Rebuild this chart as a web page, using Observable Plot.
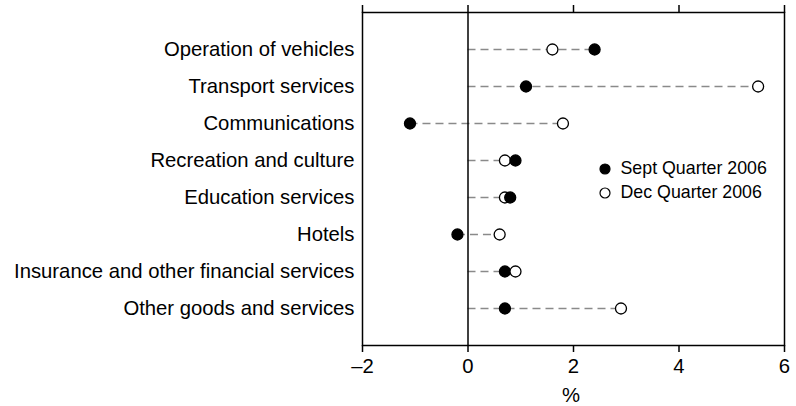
<!DOCTYPE html>
<html>
<head>
<meta charset="utf-8">
<script src="https://cdn.jsdelivr.net/npm/d3@7"></script>
<script src="https://cdn.jsdelivr.net/npm/@observablehq/plot@0.6"></script>
<style>
  html, body { margin: 0; padding: 0; background: white; }
  #wrap { position: relative; width: 796px; height: 406px; font-family: "Liberation Sans", Arial, sans-serif; }
  #legend { position: absolute; left: 599px; top: 156.5px; font-size: 17.8px; color: #000; }
  #legend .row { display: flex; align-items: center; height: 24px; white-space: nowrap; }
  #legend svg { margin-right: 9.5px; }
</style>
</head>
<body>
<div id="wrap"><div id="legend"></div></div>
<script>
const categories = [
  "Operation of vehicles",
  "Transport services",
  "Communications",
  "Recreation and culture",
  "Education services",
  "Hotels",
  "Insurance and other financial services",
  "Other goods and services"
];
const septQuarter2006 = [2.4, 1.1, -1.1, 0.9, 0.8, -0.2, 0.7, 0.7];
const decQuarter2006  = [1.6, 5.5, 1.8, 0.7, 0.7, 0.6, 0.9, 2.9];
const seriesNames = ["Sept Quarter 2006", "Dec Quarter 2006"];
const xTicks = [-2, 0, 2, 4, 6];
const xDomain = [-2, 6];
const xLabel = "%";

const rows = categories.map((c, i) => ({
  category: c,
  lo: Math.min(0, septQuarter2006[i], decQuarter2006[i]),
  hi: Math.max(0, septQuarter2006[i], decQuarter2006[i])
}));
const points = [];
categories.forEach((c, i) => {
  points.push({category: c, value: septQuarter2006[i], series: seriesNames[0], fill: "black"});
  points.push({category: c, value: decQuarter2006[i], series: seriesNames[1], fill: "white"});
});
points.sort((a, b) => a.value - b.value);

const font = '"Liberation Sans", Arial, sans-serif';
const fmt = d => d < 0 ? "\u2013" + Math.abs(d) : String(d);

const chart = Plot.plot({
  width: 796,
  height: 406,
  marginTop: 12,
  marginBottom: 61,
  marginLeft: 362,
  marginRight: 12,
  style: {fontFamily: font, fontSize: "20px", color: "black", background: "white"},
  x: {domain: xDomain, axis: null},
  y: {type: "point", domain: categories, padding: 1, axis: null},
  color: {type: "identity"},
  marks: [
    Plot.ruleY(rows, {y: "category", x1: "lo", x2: "hi", stroke: "#8a8a8a", strokeWidth: 1.5, strokeDasharray: "8,5"}),
    Plot.ruleX([0], {stroke: "black", strokeWidth: 1.5}),
    Plot.frame({stroke: "black", strokeWidth: 1.5}),
    Plot.axisX(xTicks, {anchor: "top", tickSize: 8, tickFormat: () => "", label: null, strokeWidth: 1.5}),
    Plot.axisX(xTicks, {anchor: "bottom", tickSize: 7, tickPadding: 6, tickFormat: fmt, label: null, fontSize: 20.3, strokeWidth: 1.5, fill: "black"}),
    Plot.axisY(categories, {anchor: "left", tickSize: 0, tickPadding: 8, label: null, fontSize: 20.3, fill: "black"}),
    Plot.text([xLabel], {frameAnchor: "bottom", text: d => d, dy: 42, dx: -2.5, lineAnchor: "top", fontSize: 20.3, fill: "black"}),
    Plot.dot(points, {x: "value", y: "category", r: 5.5, fill: "fill", stroke: "black", strokeWidth: 1.3})
  ]
});
document.getElementById("wrap").prepend(chart);

const legend = document.getElementById("legend");
[["black", seriesNames[0]], ["white", seriesNames[1]]].forEach(([f, name]) => {
  const row = document.createElement("div");
  row.className = "row";
  row.innerHTML = `<svg width="12" height="12"><circle cx="6" cy="6" r="5" fill="${f}" stroke="black" stroke-width="1.2"></circle></svg><span>${name}</span>`;
  legend.appendChild(row);
});
</script>
</body>
</html>
